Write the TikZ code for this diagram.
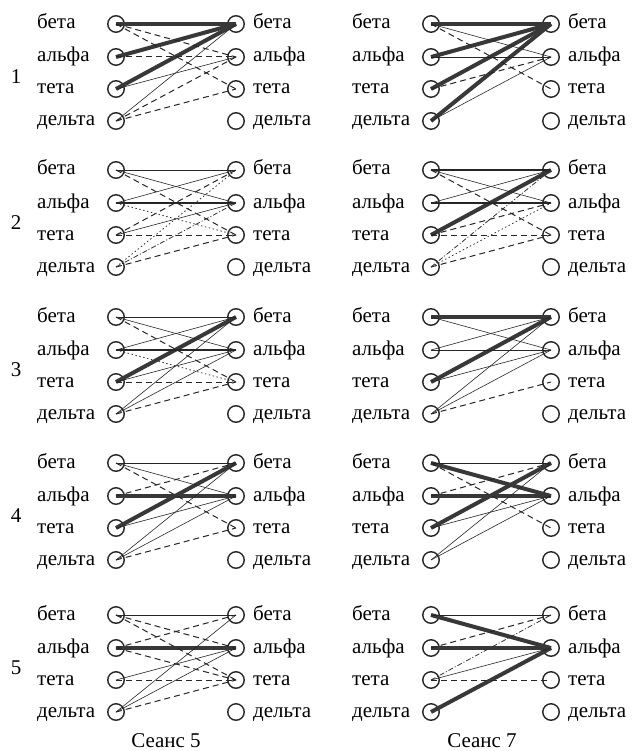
\documentclass[tikz,border=0pt]{standalone}
\usepackage{fontspec}
\setmainfont{Liberation Serif}
\tikzset{
 circ/.style={circle, draw=black!85, line width=1.4pt, minimum size=16.5pt, inner sep=0pt},
 lab/.style={anchor=base west, font=\fontsize{21}{21}\selectfont, inner sep=0pt},
 num/.style={anchor=center, font=\fontsize{21}{21}\selectfont, inner sep=0pt},
 thk/.style={line width=4pt, draw=black!78},
 thn/.style={line width=0.6pt, draw=black!85},
 med/.style={line width=1.2pt, draw=black!85},
 dsh/.style={line width=1pt, draw=black!85, dash pattern=on 6pt off 4pt},
 dotl/.style={line width=0.8pt, draw=black!80, dash pattern=on 1.5pt off 2.5pt},
 ddot/.style={line width=0.8pt, draw=black!80, dash pattern=on 5pt off 2pt on 1pt off 2pt},
}
\newcommand\mkpanel[3]{%
 \foreach \i/\t/\dy in {1/бета/0, 2/альфа/33, 3/тета/65, 4/дельта/97} {
   \node[lab] (#1a\i) at (#2+37, #3+\dy+5) {\t};
   \node[circ] (#1L\i) at (#2+116, #3+\dy) {};
   \node[circ] (#1R\i) at (#2+236, #3+\dy) {};
   \node[lab] (#1b\i) at (#2+253, #3+\dy+5) {\t};
 }}
\newcommand\ed[4]{\draw[#1] (#2L#3.center) -- (#2R#4.center);}
\begin{document}
\begin{tikzpicture}[x=1pt,y=-1pt]
\useasboundingbox (0,0) rectangle (633,751);
% panels
\mkpanel{a}{0}{24}
\mkpanel{b}{315}{24}
\mkpanel{c}{0}{170}
\mkpanel{d}{315}{170}
\mkpanel{e}{0}{317}
\mkpanel{f}{315}{317}
\mkpanel{g}{0}{463}
\mkpanel{h}{315}{463}
\mkpanel{i}{0}{615}
\mkpanel{j}{315}{615}
% row numbers
\node[num] (n1) at (16,77) {1};
\node[num] (n2) at (16,223) {2};
\node[num] (n3) at (16,370) {3};
\node[num] (n4) at (16,516) {4};
\node[num] (n5) at (16,668) {5};
% captions
\node[num] (cap5) at (166,741) {Сеанс 5};
\node[num] (cap7) at (482,741) {Сеанс 7};
% P1
\ed{thk}{a}{1}{1}\ed{thk}{a}{2}{1}\ed{thk}{a}{3}{1}
\ed{thn}{a}{4}{1}\ed{thn}{a}{3}{2}
\ed{dsh}{a}{1}{2}\ed{dsh}{a}{2}{2}\ed{dsh}{a}{4}{2}\ed{dsh}{a}{4}{3}\ed{dsh}{a}{1}{3}
% P2
\ed{thk}{b}{1}{1}\ed{thk}{b}{2}{1}\ed{thk}{b}{3}{1}\ed{thk}{b}{4}{1}
\ed{thn}{b}{1}{2}\ed{thn}{b}{2}{2}\ed{thn}{b}{4}{2}
\ed{dsh}{b}{1}{3}\ed{dsh}{b}{3}{2}
% P3
\ed{thn}{c}{1}{1}\ed{thn}{c}{1}{2}\ed{thn}{c}{2}{1}\ed{med}{c}{2}{2}\ed{thn}{c}{3}{2}
\ed{dsh}{c}{1}{3}\ed{dsh}{c}{3}{1}\ed{dsh}{c}{3}{3}\ed{dsh}{c}{4}{3}\ed{ddot}{c}{4}{2}
\ed{dotl}{c}{4}{1}\ed{dotl}{c}{2}{3}
% P4
\ed{thk}{d}{3}{1}
\ed{med}{d}{1}{1}\ed{thn}{d}{1}{2}\ed{thn}{d}{2}{1}\ed{med}{d}{2}{2}
\ed{dsh}{d}{1}{3}\ed{dsh}{d}{3}{2}\ed{dsh}{d}{3}{3}\ed{dsh}{d}{4}{3}
\ed{dotl}{d}{4}{2}\ed{ddot}{d}{4}{1}
% P5
\ed{thk}{e}{3}{1}
\ed{thn}{e}{1}{1}\ed{thn}{e}{1}{2}\ed{thn}{e}{2}{1}\ed{med}{e}{2}{2}\ed{thn}{e}{3}{2}
\ed{thn}{e}{4}{1}\ed{thn}{e}{4}{2}
\ed{dsh}{e}{1}{3}\ed{dsh}{e}{3}{3}\ed{dsh}{e}{4}{3}\ed{dotl}{e}{2}{3}
% P6
\ed{thk}{f}{1}{1}\ed{thk}{f}{3}{1}
\ed{thn}{f}{1}{2}\ed{thn}{f}{2}{1}\ed{thn}{f}{2}{2}\ed{thn}{f}{3}{2}\ed{thn}{f}{4}{1}\ed{thn}{f}{4}{2}
\ed{dsh}{f}{4}{3}
% P7
\ed{thk}{g}{2}{2}\ed{thk}{g}{3}{1}
\ed{thn}{g}{1}{1}\ed{thn}{g}{1}{2}\ed{thn}{g}{3}{2}\ed{thn}{g}{4}{1}\ed{thn}{g}{4}{2}
\ed{dsh}{g}{1}{3}\ed{dsh}{g}{2}{1}\ed{dsh}{g}{4}{3}
% P8
\ed{thk}{h}{1}{2}\ed{thk}{h}{2}{2}\ed{thk}{h}{3}{1}
\ed{thn}{h}{1}{1}\ed{thn}{h}{3}{2}\ed{thn}{h}{4}{1}\ed{thn}{h}{4}{2}
\ed{dsh}{h}{1}{3}\ed{dsh}{h}{2}{1}
% P9
\ed{thk}{i}{2}{2}
\ed{thn}{i}{1}{1}\ed{thn}{i}{3}{2}\ed{thn}{i}{4}{1}\ed{thn}{i}{4}{2}
\ed{dsh}{i}{1}{2}\ed{dsh}{i}{2}{1}\ed{dsh}{i}{1}{3}\ed{dsh}{i}{3}{3}\ed{dsh}{i}{4}{3}\ed{dsh}{i}{2}{3}
% P10
\ed{thk}{j}{1}{2}\ed{thk}{j}{2}{2}\ed{thk}{j}{4}{2}
\ed{thn}{j}{1}{1}\ed{thn}{j}{3}{2}
\ed{dsh}{j}{2}{1}\ed{dsh}{j}{3}{3}\ed{ddot}{j}{3}{1}
\end{tikzpicture}
\end{document}
